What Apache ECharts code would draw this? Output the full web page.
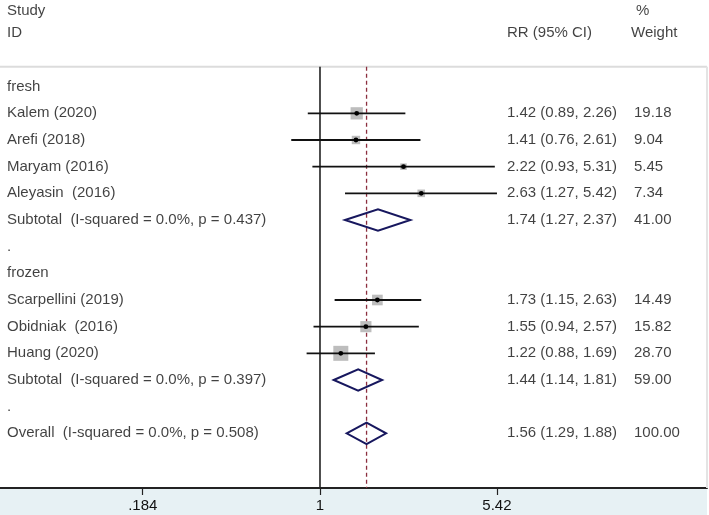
<!DOCTYPE html>
<html><head><meta charset="utf-8">
<script src="https://cdn.jsdelivr.net/npm/echarts@6/dist/echarts.min.js"></script>
<style>html,body{margin:0;padding:0;background:#fff}#c{width:709px;height:515px}</style>
</head><body><div id="c"></div>
<script>
// ---- data ----
const studyNames = ['Kalem (2020)', 'Arefi (2018)', 'Maryam (2016)', 'Aleyasin  (2016)', 'Scarpellini (2019)', 'Obidniak  (2016)', 'Huang (2020)'];
const studyRows  = [1, 2, 3, 4, 8, 9, 10];
const studyRR    = [1.42, 1.41, 2.22, 2.63, 1.73, 1.55, 1.22];
const studyLo    = [0.89, 0.76, 0.93, 1.27, 1.15, 0.94, 0.88];
const studyHi    = [2.26, 2.61, 5.31, 5.42, 2.63, 2.57, 1.69];
const studyW     = [19.18, 9.04, 5.45, 7.34, 14.49, 15.82, 28.70];

const pooledNames = ['Subtotal  (I-squared = 0.0%, p = 0.437)', 'Subtotal  (I-squared = 0.0%, p = 0.397)', 'Overall  (I-squared = 0.0%, p = 0.508)'];
const pooledRows  = [5, 11, 13];
const pooledRR    = [1.74, 1.44, 1.56];
const pooledLo    = [1.27, 1.14, 1.29];
const pooledHi    = [2.37, 1.81, 1.88];
const pooledW     = [41.00, 59.00, 100.00];

const groupLabels = ['fresh', '.', 'frozen', '.'];
const groupRows   = [0, 6, 7, 12];

const tickValues = [0.184, 1, 5.42];
const tickLabels = ['.184', '1', '5.42'];

const headerLeft  = ['Study', 'ID'];
const headerRR    = ['RR (95% CI)'];
const headerW     = ['%', 'Weight'];

// ---- layout ----
const L = Math.log;
const FONT = '"Liberation Sans", Arial, sans-serif';
const COL = {left: 7, rr: 507, w: 634, pct: 636, wh: 631};
const TOP_ROW = -0.75, BOT_ROW = 15.05;

const textData = [];
function addText(x, row, t) { textData.push({name: t, value: [x, row]}); }
addText(COL.left, -2.84, headerLeft[0]);
addText(COL.left, -2.01, headerLeft[1]);
addText(COL.rr, -2.01, headerRR[0]);
addText(COL.pct, -2.84, headerW[0]);
addText(COL.wh, -2.01, headerW[1]);
groupLabels.forEach((g, i) => addText(COL.left, groupRows[i], g));
const ciText = (r, lo, hi) => r.toFixed(2) + ' (' + lo.toFixed(2) + ', ' + hi.toFixed(2) + ')';
studyNames.forEach((n, i) => {
  addText(COL.left, studyRows[i], n);
  addText(COL.rr, studyRows[i], ciText(studyRR[i], studyLo[i], studyHi[i]));
  addText(COL.w, studyRows[i], studyW[i].toFixed(2));
});
pooledNames.forEach((n, i) => {
  addText(COL.left, pooledRows[i], n);
  addText(COL.rr, pooledRows[i], ciText(pooledRR[i], pooledLo[i], pooledHi[i]));
  addText(COL.w, pooledRows[i], pooledW[i].toFixed(2));
});

const tickLn = tickValues.map(L);
const overallLn = L(pooledRR[pooledRR.length - 1]);

const chart = echarts.init(document.getElementById('c'), null, {renderer: 'canvas'});
chart.setOption({
  animation: false,
  backgroundColor: '#fff',
  textStyle: {fontFamily: FONT},
  graphic: [{type: 'rect', left: 0, bottom: 0, z: -10, shape: {width: 707, height: 27}, style: {fill: '#e7f1f4'}}],
  grid: {left: 0, right: 2, top: 0, bottom: 27, containLabel: false},
  xAxis: [{
    type: 'value', min: -3.056, max: 3.696,
    axisLine: {onZero: false, lineStyle: {color: '#222', width: 2}},
    axisTick: {show: true, length: 7, lineStyle: {color: '#222', width: 1.2}, customValues: tickLn},
    axisLabel: {customValues: tickLn, fontSize: 15, color: '#111', margin: 10, fontFamily: FONT,
      formatter: v => { let k = 0, d = 1e9; tickLn.forEach((t, i) => { if (Math.abs(t - v) < d) { d = Math.abs(t - v); k = i; } }); return tickLabels[k]; }},
    splitLine: {show: false}
  }, {
    type: 'value', min: 0, max: 707, show: false
  }],
  yAxis: [{type: 'value', min: -3.25, max: BOT_ROW, inverse: true, show: false}],
  series: [
    { // top border line
      type: 'line', xAxisIndex: 1, data: [[0, TOP_ROW], [707, TOP_ROW]], symbol: 'none',
      lineStyle: {color: '#dcdcdc', width: 2}, silent: true, z: 1
    },
    { // right border line
      type: 'line', xAxisIndex: 1, data: [[707, TOP_ROW], [707, BOT_ROW]], symbol: 'none',
      lineStyle: {color: '#e4e4e4', width: 2}, silent: true, z: 1
    },
    { // null line at 1
      type: 'line', xAxisIndex: 0, data: [[0, TOP_ROW], [0, BOT_ROW]], symbol: 'none',
      lineStyle: {color: '#222', width: 1.6}, silent: true, z: 2
    },
    { // overall dashed line
      type: 'line', xAxisIndex: 0, data: [[overallLn, TOP_ROW], [overallLn, BOT_ROW]], symbol: 'none',
      lineStyle: {color: '#8b2e3e', width: 1.3, type: [4, 3]}, silent: true, z: 2
    },
    { // studies
      type: 'custom', xAxisIndex: 0, yAxisIndex: 0, z: 3,
      data: studyRR.map((v, i) => [L(v), studyRows[i], L(studyLo[i]), L(studyHi[i])]),
      encode: {x: [0, 2, 3], y: 1},
      renderItem(params, api) {
        const y = api.value(1);
        const c = api.coord([api.value(0), y]);
        const lo = api.coord([api.value(2), y]);
        const hi = api.coord([api.value(3), y]);
        const s = 2.8 * Math.sqrt(studyW[params.dataIndex]);
        return {type: 'group', children: [
          {type: 'rect', shape: {x: c[0] - s / 2, y: c[1] - s / 2, width: s, height: s}, style: {fill: '#bdbdbd'}},
          {type: 'line', shape: {x1: lo[0], y1: lo[1], x2: hi[0], y2: hi[1]}, style: {stroke: '#111', lineWidth: 1.9}},
          {type: 'circle', shape: {cx: c[0], cy: c[1], r: 2.4}, style: {fill: '#000'}}
        ]};
      }
    },
    { // pooled diamonds
      type: 'custom', xAxisIndex: 0, yAxisIndex: 0, z: 3,
      data: pooledRR.map((v, i) => [L(v), pooledRows[i], L(pooledLo[i]), L(pooledHi[i])]),
      encode: {x: [0, 2, 3], y: 1},
      renderItem(params, api) {
        const y = api.value(1);
        const c = api.coord([api.value(0), y]);
        const lo = api.coord([api.value(2), y]);
        const hi = api.coord([api.value(3), y]);
        const h = 10.7;
        return {type: 'polygon', shape: {points: [[lo[0], c[1]], [c[0], c[1] - h], [hi[0], c[1]], [c[0], c[1] + h]]},
          style: {fill: 'none', stroke: '#17175e', lineWidth: 2}};
      }
    },
    { // text table
      type: 'scatter', xAxisIndex: 1, yAxisIndex: 0, symbolSize: 0, clip: false, silent: true, z: 5,
      data: textData,
      label: {show: true, position: 'right', distance: 0, formatter: '{b}', color: '#111', fontSize: 15, fontFamily: FONT}
    }
  ]
});
</script>
</body></html>
